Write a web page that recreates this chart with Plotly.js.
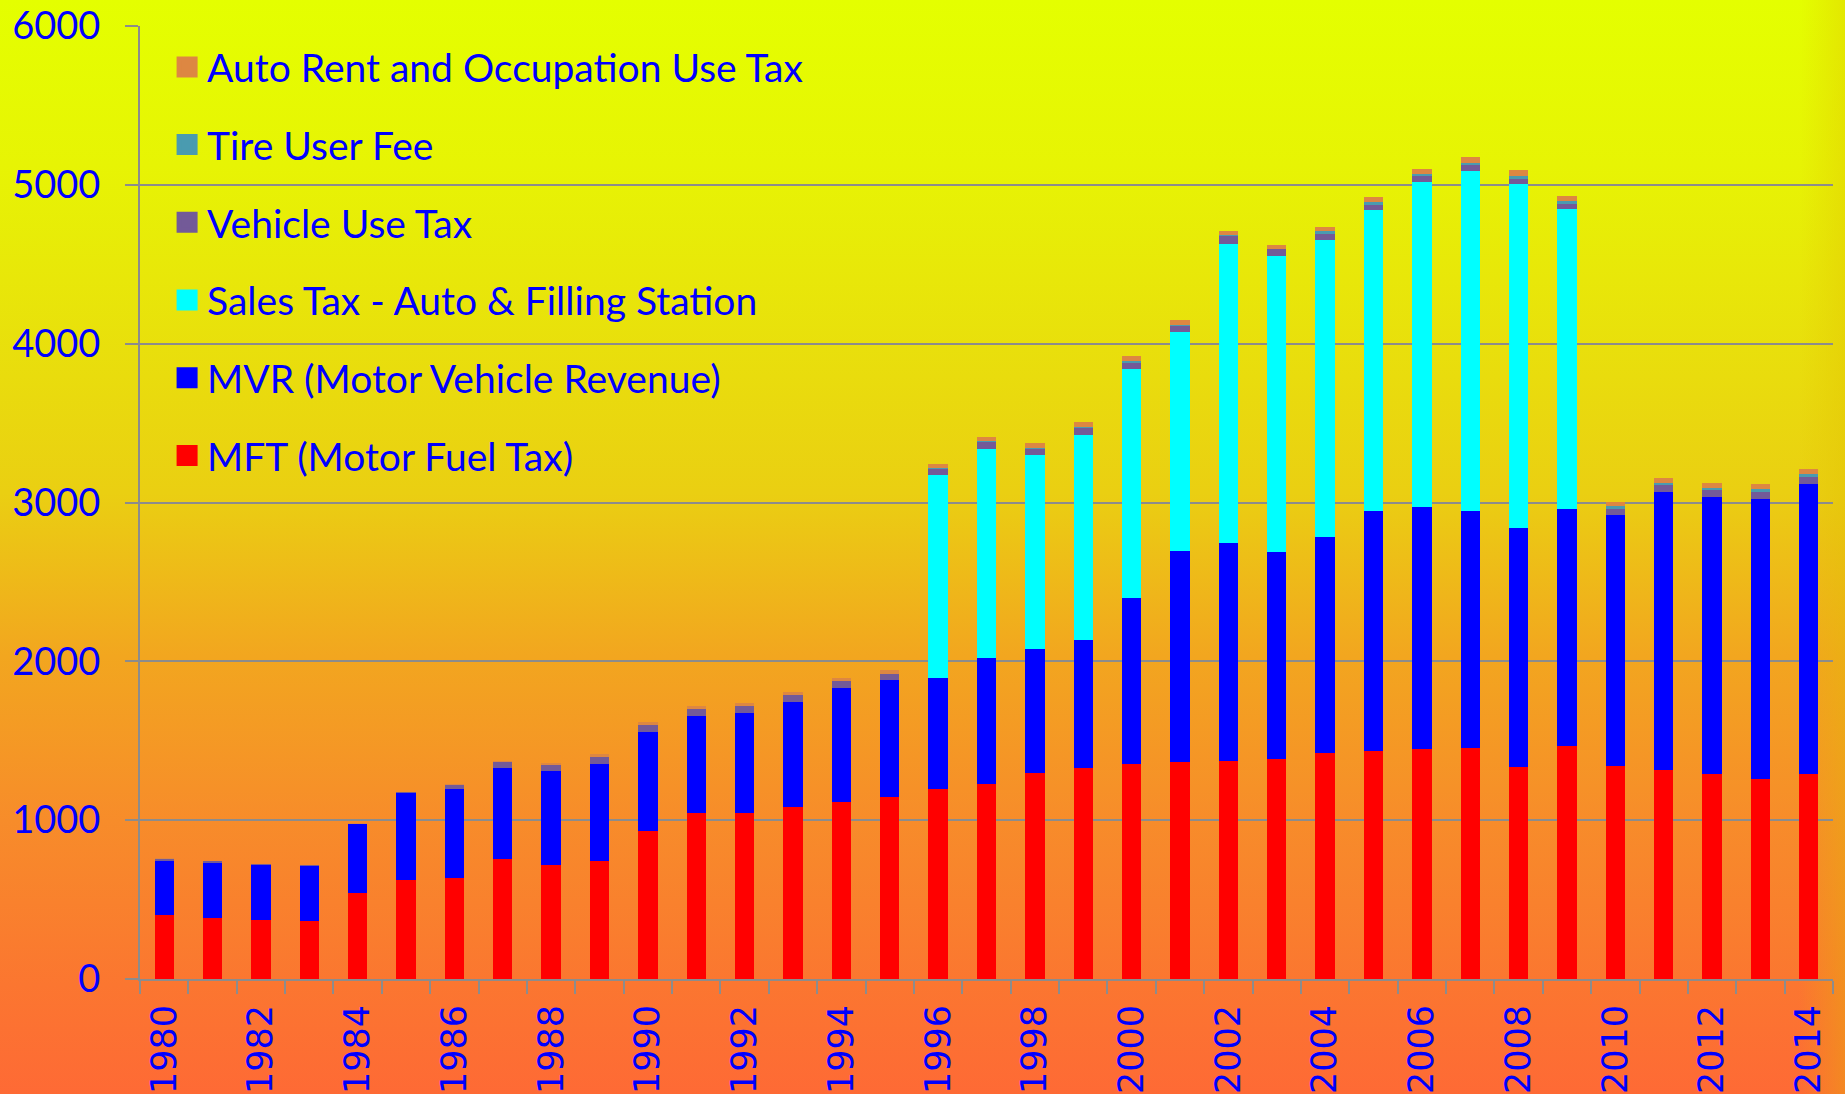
<!DOCTYPE html>
<html><head><meta charset="utf-8">
<script src="https://cdn.plot.ly/plotly-3.0.1.min.js"></script>
<style>
html,body{margin:0;padding:0;}
body{width:1845px;height:1094px;overflow:hidden;
background:
 linear-gradient(to right, rgba(0,0,0,0) 97.5%, rgba(225,190,0,0.35) 100%),
 linear-gradient(to bottom, #e4ff00 0%, #e7f404 15%, #eacf12 45%, #f2a61f 60%, #f78c2a 75%, #fb7630 90%, #fe6a35 100%);}
#chart{width:1845px;height:1094px;}
</style></head>
<body><div id="chart"></div>
<script>
const years = [1980,1981,1982,1983,1984,1985,1986,1987,1988,1989,1990,1991,1992,1993,1994,1995,1996,1997,1998,1999,2000,2001,2002,2003,2004,2005,2006,2007,2008,2009,2010,2011,2012,2013,2014];
const tickYears = [1980,1982,1984,1986,1988,1990,1992,1994,1996,1998,2000,2002,2004,2006,2008,2010,2012,2014];
const yTicks = [0,1000,2000,3000,4000,5000,6000];

const mft      = [401,382,373,367,542,625,634,758,718,743,934,1045,1043,1085,1113,1145,1199,1228,1298,1327,1352,1365,1372,1384,1420,1433,1445,1453,1337,1464,1341,1317,1293,1261,1293];
const mvr      = [344,350,347,346,431,548,563,572,593,611,623,612,630,662,721,736,699,794,779,807,1047,1327,1376,1305,1365,1512,1528,1496,1500,1497,1580,1752,1744,1764,1824];
const salesTax = [0,0,0,0,0,0,0,0,0,0,0,0,0,0,0,0,1276,1318,1223,1294,1442,1380,1882,1860,1870,1897,2042,2141,2167,1889,0,0,0,0,0];
const vehUse   = [13,8,5,4,6,6,23,36,38,45,42,43,47,43,43,39,38,42,40,44,40,38,45,44,38,34,42,36,34,31,39,41,41,41,43];
const tireFee  = [0,0,0,0,0,0,0,0,0,0,0,0,0,0,0,0,3,3,4,6,7,10,9,5,14,19,14,12,19,16,15,15,15,16,17];
const autoRent = [2,1,1,1,1,1,8,9,12,17,17,17,18,19,21,23,25,25,29,32,32,30,26,24,30,30,30,38,38,34,30,31,31,34,35];

const seriesNames  = ['MFT (Motor Fuel Tax)','MVR (Motor Vehicle Revenue)','Sales Tax - Auto & Filling Station','Vehicle Use Tax','Tire User Fee','Auto Rent and Occupation Use Tax'];
const seriesValues = [mft, mvr, salesTax, vehUse, tireFee, autoRent];
const seriesColors = ['#ff0000','#0000ff','#00ffff','#735a98','#4a9bb0','#dd8742'];

// data bars (stacked, bottom to top)
const traces = seriesValues.map((vals,i)=>({
  type:'bar', x: years, y: vals, name: seriesNames[i],
  marker:{color: seriesColors[i], line:{width:0}},
  showlegend:false, hoverinfo:'x+y+name'
}));
// legend keys only (outside the visible x range, clipped, draw nothing on the plot)
const legendKeys = seriesNames.map((nm,i)=>({
  type:'scatter', mode:'markers', x:[1900], y:[0], name: nm,
  marker:{symbol:'square', size:16, color: seriesColors[i], line:{width:5, color: seriesColors[i]}},
  legendgroup:'g'+i, legendrank: 100 - i, showlegend:true, hoverinfo:'skip'
}));

const grey = '#8c8c8c';
const layout = {
  width:1845, height:1094,
  barmode:'stack', bargap:0.6,
  paper_bgcolor:'rgba(0,0,0,0)', plot_bgcolor:'rgba(0,0,0,0)',
  margin:{l:140, r:12, t:26, b:115, pad:0},
  showlegend:true,
  legend:{x:0.016, xanchor:'left', y:0.9905, yanchor:'top',
    font:{family:'Lato, Open Sans, sans-serif', size:39, color:'#0000ff'},
    bgcolor:'rgba(0,0,0,0)', traceorder:'grouped', tracegroupgap:24},
  xaxis:{type:'linear', range:[1979.5,2014.5], tickmode:'array', tickvals:tickYears, ticktext:tickYears.map(String),
    tickangle:-90, tickfont:{family:'DejaVu Sans', size:35, color:'#0000ff'},
    ticks:'', showgrid:false, zeroline:false,
    showline:true, linecolor:grey, linewidth:2,
    minor:{ticks:'outside', ticklen:13, tickwidth:2, tickcolor:grey, tick0:1979.5, dtick:1, showgrid:false},
    ticklabelstandoff:10, automargin:false, fixedrange:true},
  yaxis:{range:[0,6000], tickmode:'array', tickvals:yTicks, ticktext:yTicks.map(String),
    tickfont:{family:'Lato, Open Sans, sans-serif', size:38, color:'#0000ff'},
    showgrid:true, gridcolor:grey, gridwidth:2, zeroline:false,
    showline:true, linecolor:grey, linewidth:2,
    ticks:'outside', ticklen:13, tickwidth:2, tickcolor:grey,
    ticklabelstandoff:17, automargin:false, fixedrange:true}
};
Plotly.newPlot('chart', traces.concat(legendKeys), layout, {displayModeBar:false, staticPlot:true});
</script>
</body></html>
